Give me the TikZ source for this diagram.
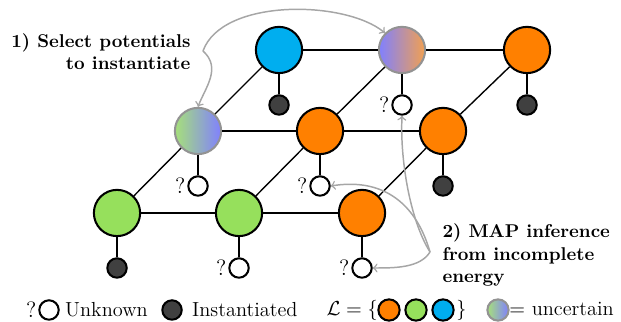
\documentclass[tikz,border=0pt]{standalone}
\usepackage{pgf,tikz}
\usetikzlibrary{arrows}
\definecolor{lorange}{RGB}{255,128,0}
\definecolor{lgreen}{RGB}{150,224,92}
\definecolor{lblue}{RGB}{0,174,239}
\definecolor{lviolet}{RGB}{128,128,255}
\definecolor{pgreen}{RGB}{166,224,122}
\definecolor{porange}{RGB}{242,160,80}
\definecolor{inst}{RGB}{64,64,64}
\newcommand{\keyfont}{\fontsize{11}{13}\selectfont}
\tikzset{
 var/.style={circle,draw=black,line width=1.1pt,minimum size=25pt,inner sep=0pt},
 unc/.style={var,draw=gray!85},
 obs/.style={circle,draw=black,line width=1.1pt,minimum size=10.5pt,inner sep=0pt},
 unk/.style={obs,fill=white,label={[inner sep=0.8pt,font=\large]left:?}},
 ins/.style={obs,fill=inst},
 key/.style={obs,minimum size=11.5pt},
 edge/.style={line width=0.75pt},
 hint/.style={->,draw=gray!70,line width=0.8pt}
}
\begin{document}
\begin{tikzpicture}[x=0.019cm,y=-0.019cm]
\useasboundingbox (0,0) rectangle (621,322);
\node [var,fill=lblue] (v1) at (279,50) {};
\node [unc,left color=lviolet,right color=porange] (v2) at (402,50) {};
\node [var,fill=lorange] (v3) at (527,50) {};
\node [unc,left color=pgreen,right color=lviolet] (v4) at (198,131) {};
\node [var,fill=lorange] (v5) at (320,131) {};
\node [var,fill=lorange] (v6) at (443,131) {};
\node [var,fill=lgreen] (v7) at (117,213) {};
\node [var,fill=lgreen] (v8) at (239,213) {};
\node [var,fill=lorange] (v9) at (362,213) {};
\node [ins] (o1) at (279,105) {};
\node [unk] (o2) at (402,105) {};
\node [ins] (o3) at (527,105) {};
\node [unk] (o4) at (198,186) {};
\node [unk] (o5) at (320,186) {};
\node [ins] (o6) at (443,186) {};
\node [ins] (o7) at (117,268) {};
\node [unk] (o8) at (239,268) {};
\node [unk] (o9) at (362,268) {};
\draw [edge] (v1) -- (v2) -- (v3);
\draw [edge] (v4) -- (v5) -- (v6);
\draw [edge] (v7) -- (v8) -- (v9);
\draw [edge] (v1) -- (v4) -- (v7);
\draw [edge] (v2) -- (v5) -- (v8);
\draw [edge] (v3) -- (v6) -- (v9);
\draw [edge] (v1) -- (o1) (v2) -- (o2) (v3) -- (o3);
\draw [edge] (v4) -- (o4) (v5) -- (o5) (v6) -- (o6);
\draw [edge] (v7) -- (o7) (v8) -- (o8) (v9) -- (o9);
\node [anchor=east,align=right,font=\bfseries] (sel) at (197,52) {1) Select potentials\\to instantiate};
\node [anchor=west,align=left,font=\bfseries] (map) at (436,255) {2) MAP inference\\from incomplete\\energy};
\coordinate (s1) at (203,51);
\coordinate (s2) at (430,252);
\draw [hint] (s1) .. controls (222,-2) and (345,0) .. (v2.north west);
\draw [hint] (s1) .. controls (222,68) and (205,88) .. (v4.north);
\draw [hint] (s2) .. controls (410,220) and (400,160) .. (o2.south);
\draw [hint] (s2) .. controls (415,200) and (380,178) .. (o5.east);
\draw [hint] (s2) .. controls (420,268) and (395,268) .. (o9.east);
\node [unk] (k1) at (49,310) {};
\node [anchor=west,font=\keyfont,inner sep=1pt] (k1t) at (63,310) {Unknown};
\node [ins] (k2) at (172,310) {};
\node [anchor=west,font=\keyfont,inner sep=1pt] (k2t) at (190,310) {Instantiated};
\node [anchor=base east,inner sep=0pt,font=\keyfont] (lab) at (378,316) {$\mathcal{L}=\{$};
\node [key,fill=lorange] (c1) at (389,310) {};
\node [key,fill=lgreen] (c2) at (416,310) {};
\node [key,fill=lblue] (c3) at (443,310) {};
\node [anchor=base west,inner sep=0pt,font=\keyfont] (rb) at (456,316) {$\}$};
\node [key,draw=gray!85,left color=pgreen,right color=lviolet] (c4) at (498,310) {};
\node [anchor=base west,inner sep=0pt,font=\keyfont] (unct) at (509,316) {$=$ uncertain};
\end{tikzpicture}
\end{document}
